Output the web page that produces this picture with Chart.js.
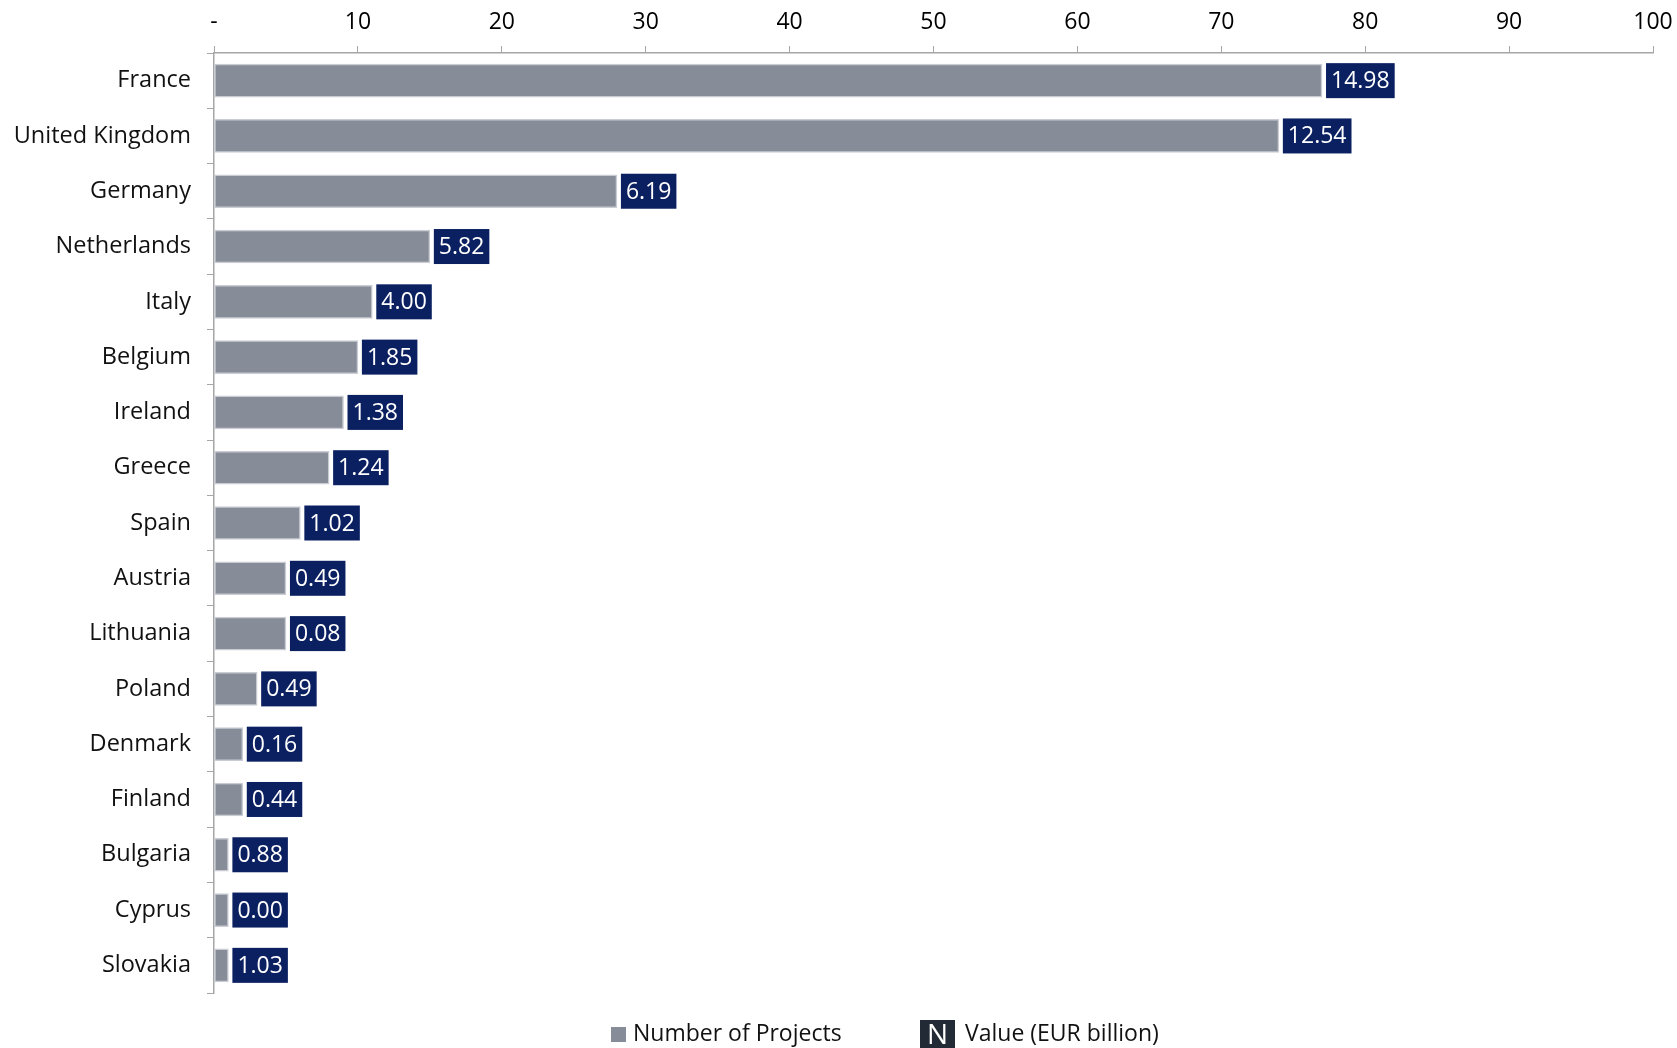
<!DOCTYPE html>
<html>
<head>
<meta charset="utf-8">
<script src="https://cdn.jsdelivr.net/npm/chart.js@4.4.0/dist/chart.umd.min.js"></script>
<style>
    html, body { margin: 0; padding: 0; background: #fff; }
</style>
</head>
<body>
<canvas id="projectsChart" width="1677" height="1048"></canvas>
<script>
// Chart data
const countries = ['France', 'United Kingdom', 'Germany', 'Netherlands', 'Italy', 'Belgium', 'Ireland',
    'Greece', 'Spain', 'Austria', 'Lithuania', 'Poland', 'Denmark', 'Finland', 'Bulgaria', 'Cyprus', 'Slovakia'];
const projectCounts = [77, 74, 28, 15, 11, 10, 9, 8, 6, 5, 5, 3, 2, 2, 1, 1, 1];
const valueLabels = ['14.98', '12.54', '6.19', '5.82', '4.00', '1.85', '1.38', '1.24', '1.02', '0.49',
    '0.08', '0.49', '0.16', '0.44', '0.88', '0.00', '1.03'];
const xMin = 0, xMax = 100, xStep = 10;
const legendNames = ['Number of Projects', 'Value (EUR billion)'];

const FONT = '"Open Sans", sans-serif';
const barColor = '#878c99';
const navy = '#0b2060';

// Value boxes at the end of each bar
const valueBoxPlugin = {
    id: 'valueBoxes',
    afterDatasetsDraw(chart) {
        const ctx = chart.ctx;
        const meta = chart.getDatasetMeta(0);
        ctx.save();
        ctx.font = '23px ' + FONT;
        ctx.textBaseline = 'middle';
        meta.data.forEach((bar, i) => {
            const text = valueLabels[i];
            const w = ctx.measureText(text).width + 10;
            const h = bar.height + 2;
            const x = bar.x + 4;
            ctx.fillStyle = navy;
            ctx.fillRect(x, bar.y - h / 2, w, h);
            ctx.fillStyle = '#fff';
            ctx.fillText(text, x + 5, bar.y + 1);
        });
        ctx.restore();
    }
};

// Legend drawn under the plot
const legendPlugin = {
    id: 'bottomLegend',
    afterDraw(chart) {
        const ctx = chart.ctx;
        const y = 1034;
        ctx.save();
        ctx.font = '23px ' + FONT;
        ctx.textBaseline = 'middle';
        ctx.fillStyle = barColor;
        ctx.fillRect(611, y - 7, 15, 15);
        ctx.fillStyle = '#111';
        ctx.fillText(legendNames[0], 633, y);

        ctx.fillStyle = '#222a36';
        ctx.fillRect(920, 1020, 35, 30);
        ctx.fillStyle = '#fff';
        ctx.font = '28px ' + FONT;
        ctx.textAlign = 'center';
        ctx.fillText('N', 937.5, 1036);
        ctx.textAlign = 'left';
        ctx.font = '23px ' + FONT;
        ctx.fillStyle = '#111';
        ctx.fillText(legendNames[1], 965, y);
        ctx.restore();
    }
};

const ctx = document.getElementById('projectsChart').getContext('2d');
const projectsChart = new Chart(ctx, {
    type: 'bar',
    data: {
        labels: countries,
        datasets: [{
            label: legendNames[0],
            data: projectCounts,
            backgroundColor: barColor,
            borderColor: '#c9ccd3',
            borderWidth: 1.5,
            borderSkipped: false,
            barThickness: 33
        }]
    },
    options: {
        indexAxis: 'y',
        responsive: false,
        animation: false,
        layout: {
            padding: { top: 0, right: 24, bottom: 55, left: 0 }
        },
        plugins: {
            legend: { display: false },
            tooltip: { enabled: false }
        },
        scales: {
            x: {
                position: 'top',
                min: xMin,
                max: xMax,
                afterFit: function (scale) {
                    scale.height = 53;
                    scale.paddingLeft = 0;
                    scale.paddingRight = 0;
                },
                ticks: {
                    stepSize: xStep,
                    color: '#000',
                    padding: 10,
                    font: { family: FONT, size: 23 },
                    callback: function (value) { return value === 0 ? '-' : value; }
                },
                grid: {
                    drawOnChartArea: false,
                    color: '#a6a6a6',
                    tickLength: 7
                },
                border: { color: '#a6a6a6', width: 1.5 }
            },
            y: {
                afterFit: function (scale) { scale.width = 214; },
                ticks: {
                    color: '#111',
                    padding: 16,
                    font: { family: FONT, size: 23.5 }
                },
                grid: {
                    drawOnChartArea: false,
                    color: '#a6a6a6',
                    tickLength: 7
                },
                border: { color: '#a6a6a6', width: 1.5 }
            }
        }
    },
    plugins: [valueBoxPlugin, legendPlugin]
});
</script>
</body>
</html>
